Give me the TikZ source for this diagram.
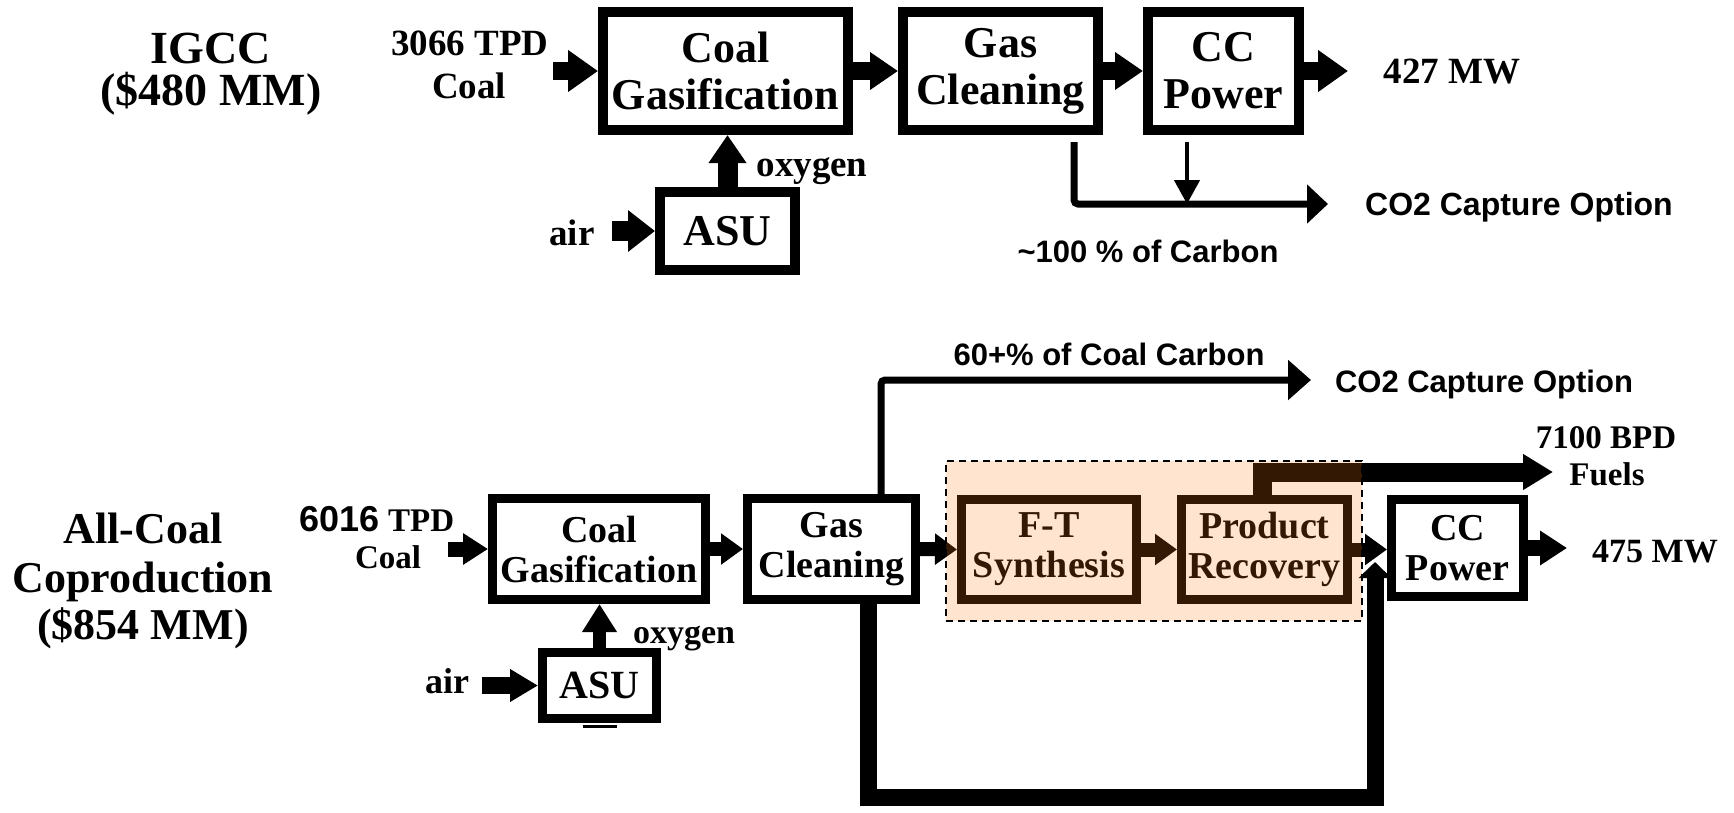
\documentclass[tikz,border=0pt]{standalone}
\usepackage{fontspec}
\setmainfont{Liberation Serif}
\setsansfont{Liberation Sans}
\usetikzlibrary{arrows.meta}
\newcommand{\fsz}[2]{\fontsize{#1}{#2}\selectfont}
\definecolor{peach}{RGB}{255,120,20}
\begin{document}
\begin{tikzpicture}[x=1pt,y=-1pt,
  box/.style={draw, line width=10pt, inner sep=0pt, align=center, font=\fsz{44}{47}\bfseries},
  boxb/.style={draw, line width=9pt, inner sep=0pt, align=center, font=\fsz{38}{40}\bfseries},
  lbl/.style={inner sep=0pt, anchor=base, font=\fsz{37}{40}\bfseries},
  slbl/.style={inner sep=0pt, anchor=base, font=\sffamily\fsz{31}{33}\bfseries},
  blk/.style n args={3}{line width=#1pt, -{Triangle[length=#3pt,width=#2pt]}},
  thinarr/.style n args={3}{line width=#1pt, rounded corners=4pt, -{Triangle[length=#3pt,width=#2pt]}},
  region/.style={draw, dash pattern=on 7pt off 5pt, line width=2.5pt, fill=peach, fill opacity=0.2, inner sep=0pt}
]
\fill[white] (0,0) rectangle (1734,812);
\useasboundingbox (0,0) rectangle (1734,812);

% ---------- IGCC ----------
\node[inner sep=0pt, align=center, font=\fsz{46}{42}\bfseries] (t1) at (211,74) {IGCC\\(\$480 MM)};

\node[box, minimum width=245pt, minimum height=118pt] (cg1) at (725.5,71) {Coal\\Gasification};
\node[box, minimum width=195pt, minimum height=118pt] (gc1) at (1000.5,71) {Gas\\Cleaning};
\node[box, minimum width=151pt, minimum height=118pt] (cc1) at (1223.5,71) {CC\\Power};
\node[box, minimum width=135pt, minimum height=78pt] (asu1) at (727.5,231) {ASU};

\node[lbl] (coal1a) at (470,55) {3066 TPD};
\node[lbl] (coal1b) at (469,98) {Coal};
\node[lbl] (mw1) at (1452,83) {427 MW};
\node[lbl] (ox1) at (812,176) {oxygen};
\node[lbl] (air1) at (572,245) {air};
\node[slbl, font=\sffamily\fsz{32}{34}\bfseries] (cap1) at (1519,215) {CO2 Capture Option};
\node[slbl] (pc1) at (1148,262) {\textasciitilde100 \% of Carbon};

\coordinate (cin1) at (553,71);
\draw[blk={18}{40}{30}] (cin1) -- (cg1.west);
\draw[blk={18}{36}{28}] (cg1.east) -- (gc1.west);
\draw[blk={18}{36}{28}] (gc1.east) -- (cc1.west);
\coordinate (mwa1) at (1348,71);
\draw[blk={18}{40}{30}] (cc1.east) -- (mwa1);
\draw[blk={20}{36}{28}] (asu1.north) -- (asu1.north |- cg1.south);
\coordinate (aira1) at (612,231);
\draw[blk={20}{40}{27}] (aira1) -- (asu1.west);

\coordinate (co2t) at (1328,204);
\draw[thinarr={7}{38}{21}] ([xshift=73.5pt,yshift=-7pt]gc1.south) |- (co2t);
\coordinate (ccdrop) at ([xshift=-36.5pt,yshift=-7pt]cc1.south);
\draw[line width=4.5pt, -{Triangle[length=24pt,width=25pt]}] (ccdrop) -- (ccdrop |- co2t);

% ---------- All-Coal Coproduction ----------
\node[lbl, font=\fsz{44}{48}\bfseries] (t2a) at (143,543) {All-Coal};
\node[lbl, font=\fsz{44}{48}\bfseries] (t2b) at (143,592) {Coproduction};
\node[lbl, font=\fsz{44}{48}\bfseries] (t2c) at (143,639) {(\$854 MM)};

\node[boxb, minimum width=213pt, minimum height=101pt] (cg2) at (599,549) {Coal\\Gasification};
\node[boxb, minimum width=168pt, minimum height=101pt] (gc2) at (831.5,549) {Gas\\Cleaning};
\node[boxb, minimum width=175pt, minimum height=100pt] (ft) at (1049,549.5) {F-T\\Synthesis};
\node[boxb, minimum width=166pt, minimum height=100pt] (pr) at (1264.5,549.5) {Product\\Recovery};
\node[boxb, minimum width=132pt, minimum height=97pt] (cc2) at (1457.5,548) {CC\\Power};
\node[boxb, minimum width=114pt, minimum height=66pt, font=\fsz{40}{42}\bfseries] (asu2) at (599.5,685.5) {ASU};

\node[lbl, font=\fsz{33}{36}\bfseries] (coal2a) at (377,531) {{\sffamily\fsz{36}{38}\bfseries 6016}\ TPD};
\node[lbl, font=\fsz{33}{36}\bfseries] (coal2b) at (388,568) {Coal};
\node[lbl, font=\fsz{34}{36}\bfseries] (ox2) at (684,643) {oxygen};
\node[lbl, font=\fsz{36}{38}\bfseries] (air2) at (447,693) {air};
\node[lbl, font=\fsz{33}{36}\bfseries] (fu1) at (1606,448) {7100 BPD};
\node[lbl, font=\fsz{33}{36}\bfseries] (fu2) at (1607,485) {Fuels};
\node[lbl, font=\fsz{34}{36}\bfseries] (mw2) at (1655,562) {475 MW};
\node[slbl] (pc2) at (1109,365) {60+\% of Coal Carbon};
\node[slbl] (cap2) at (1484,392) {CO2 Capture Option};

\coordinate (cin2) at (448,549);
\draw[blk={15}{30}{25}] (cin2) -- (cg2.west);
\draw[blk={14}{30}{22}] (cg2.east) -- (gc2.west);
\draw[blk={14}{30}{22}] (gc2.east) -- (ft.west);
\draw[blk={14}{30}{22}] (ft.east) -- (pr.west);
\draw[blk={14}{30}{22}] (pr.east) -- (pr.east -| cc2.west);
\coordinate (mwa2) at (1567,548);
\draw[blk={16}{33}{27}] (cc2.east) -- (mwa2);
\draw[blk={13}{33}{28}] (asu2.north) -- (asu2.north |- cg2.south);
\coordinate (aira2) at (482,685.5);
\draw[blk={17}{31}{28}] (aira2) -- (asu2.west);
\draw[line width=3pt] ([xshift=-17pt,yshift=-3pt]asu2.south) -- ++(34,0);

\coordinate (co2b) at (1311,380);
\draw[thinarr={7}{39}{23}] ([xshift=49.5pt]gc2.north) |- (co2b);

\coordinate (fuel) at (1553,472);
\draw[line width=19pt, -{Triangle[length=30pt,width=34pt]}] ([xshift=-2.5pt]pr.north) |- (fuel);

\coordinate (loopbot) at (868,797);
\coordinate (looptip) at (1375,562);
\draw[line width=17pt, -{Triangle[length=16pt,width=32pt]}] ([xshift=36.5pt]gc2.south) -- (loopbot) -| (looptip);

\node[region, minimum width=416pt, minimum height=160pt] (reg) at (1154,541) {};
\end{tikzpicture}
\end{document}
